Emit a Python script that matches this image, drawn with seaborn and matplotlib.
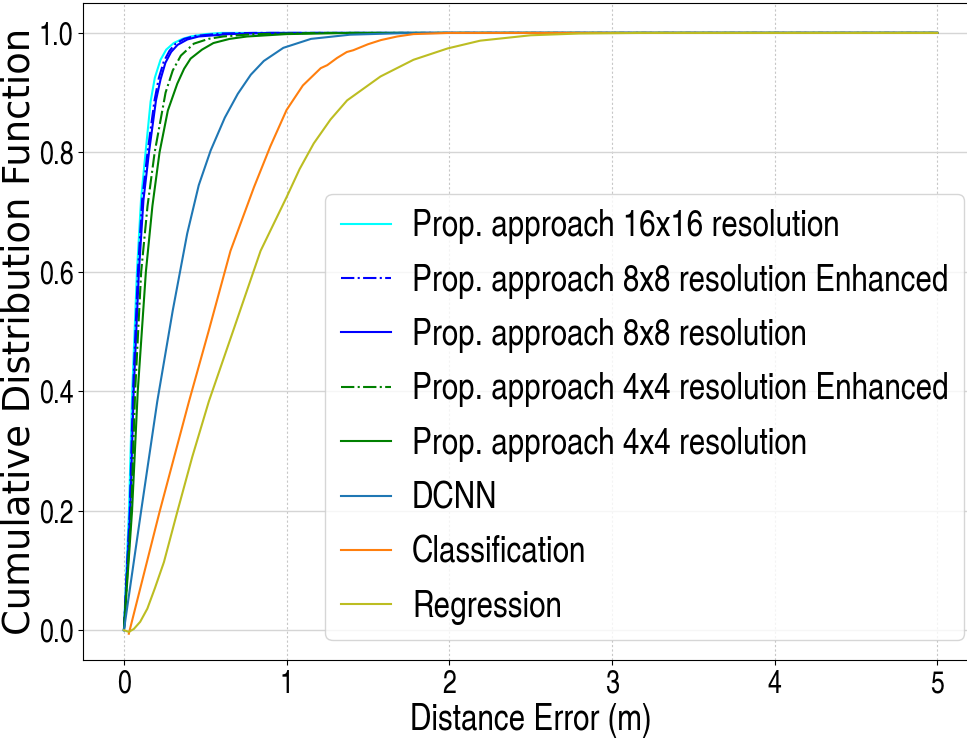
import pandas as pd
import matplotlib
matplotlib.use("Agg")
import matplotlib.pyplot as plt
import seaborn as sns

# CDF curves (x = distance error in m, y = CDF)
cyan16_x = [0.0, 0.031, 0.051, 0.080, 0.105, 0.133, 0.164, 0.19, 0.225, 0.26, 0.306, 0.36, 0.41, 0.5, 0.6, 5.0]
cyan16_y = [0.0, 0.2, 0.4, 0.6, 0.72, 0.8, 0.885, 0.925, 0.955, 0.972, 0.983, 0.99, 0.994, 0.998, 1.0, 1.0]

blue8e_x = [0.0, 0.036, 0.056, 0.086, 0.112, 0.145, 0.188, 0.215, 0.245, 0.28, 0.318, 0.37, 0.44, 0.6, 0.8, 5.0]
blue8e_y = [0.0, 0.2, 0.4, 0.6, 0.72, 0.8, 0.887, 0.925, 0.952, 0.97, 0.982, 0.99, 0.995, 0.999, 1.0, 1.0]

blue8_x = [0.0, 0.039, 0.060, 0.092, 0.12, 0.154, 0.197, 0.225, 0.255, 0.29, 0.33, 0.39, 0.46, 0.65, 0.9, 5.0]
blue8_y = [0.0, 0.2, 0.4, 0.6, 0.72, 0.8, 0.887, 0.922, 0.95, 0.968, 0.98, 0.989, 0.994, 0.998, 1.0, 1.0]

green4e_x = [0.0, 0.045, 0.069, 0.106, 0.145, 0.189, 0.256, 0.3, 0.35, 0.43, 0.52, 0.61, 0.8, 1.2, 5.0]
green4e_y = [0.0, 0.2, 0.4, 0.6, 0.71, 0.8, 0.9, 0.937, 0.962, 0.982, 0.99, 0.994, 0.998, 1.0, 1.0]

green4_x = [0.0, 0.05, 0.085, 0.135, 0.175, 0.219, 0.27, 0.328, 0.37, 0.41, 0.48, 0.55, 0.65, 0.757, 1.0, 1.4, 5.0]
green4_y = [0.0, 0.2, 0.4, 0.6, 0.71, 0.8, 0.87, 0.915, 0.94, 0.957, 0.972, 0.983, 0.99, 0.994, 0.998, 1.0, 1.0]

dcnn_x = [0.0, 0.106, 0.205, 0.3, 0.389, 0.46, 0.533, 0.62, 0.70, 0.78, 0.86, 0.98, 1.15, 1.39, 1.7, 2.0, 5.0]
dcnn_y = [0.0, 0.2, 0.383, 0.535, 0.664, 0.745, 0.803, 0.858, 0.898, 0.93, 0.953, 0.975, 0.99, 0.997, 0.9995, 1.0, 1.0]

clf_x = [0.03, 0.219, 0.4, 0.52, 0.655, 0.8, 0.9, 1.0, 1.1, 1.21, 1.25, 1.31, 1.37, 1.41, 1.5, 1.58, 1.68, 1.78, 2.0, 5.0]
clf_y = [-0.006, 0.198, 0.383, 0.5, 0.635, 0.742, 0.81, 0.871, 0.912, 0.941, 0.946, 0.958, 0.968, 0.971, 0.981, 0.988, 0.994, 0.998, 1.0, 1.0]

reg_x = [0.0, 0.03, 0.061, 0.1, 0.144, 0.19, 0.246, 0.328, 0.42, 0.522, 0.67, 0.84, 1.0, 1.08, 1.167, 1.27, 1.372,
         1.577, 1.78, 1.99, 2.19, 2.5, 2.8, 3.2, 5.0]
reg_y = [0.0, -0.003, 0.002, 0.014, 0.036, 0.07, 0.114, 0.198, 0.29, 0.383, 0.5, 0.635, 0.725, 0.772, 0.815, 0.855, 0.887,
         0.927, 0.955, 0.974, 0.987, 0.996, 0.999, 1.0, 1.0]

labels = ["Prop. approach 16x16 resolution",
          "Prop. approach 8x8 resolution Enhanced",
          "Prop. approach 8x8 resolution",
          "Prop. approach 4x4 resolution Enhanced",
          "Prop. approach 4x4 resolution",
          "DCNN", "Classification", "Regression"]

series = [(cyan16_x, cyan16_y, "cyan", "-"),
          (blue8e_x, blue8e_y, "blue", "-."),
          (blue8_x, blue8_y, "blue", "-"),
          (green4e_x, green4e_y, "green", "-."),
          (green4_x, green4_y, "green", "-"),
          (dcnn_x, dcnn_y, "#1f77b4", "-"),
          (clf_x, clf_y, "#ff7f0e", "-"),
          (reg_x, reg_y, "#bcbd22", "-")]

# narrow face for ticks / x label / legend
narrow = ["TeX Gyre Heros Cn", "Roboto Condensed", "DejaVu Sans"]

fig = plt.figure(figsize=(9.67, 7.42), dpi=100)
ax = fig.add_axes([0.0861, 0.1105, 0.9252, 0.8854])

for (xs, ys, col, ls), lab in zip(series, labels):
    df = pd.DataFrame({"x": xs, "y": ys})
    sns.lineplot(data=df, x="x", y="y", color=col, linestyle=ls,
                 linewidth=1.5, label=lab, ax=ax, sort=False)

ax.set_xlim(-0.25, 5.25)
ax.set_ylim(-0.05, 1.05)
ax.set_xticks([0, 1, 2, 3, 4, 5])
ax.set_yticks([0.0, 0.2, 0.4, 0.6, 0.8, 1.0])
ax.xaxis.grid(True, linestyle=(0, (2, 2)), linewidth=0.8, color="#b0b0b0", alpha=0.7)
ax.yaxis.grid(True, linestyle="-", linewidth=1.0, color="#d5d5d5")
for lbl in ax.get_xticklabels() + ax.get_yticklabels():
    lbl.set_family(narrow)
    lbl.set_fontsize(22)
ax.set_xlabel("Distance Error (m)", fontsize=26, family=narrow, labelpad=2)
ax.set_ylabel("Cumulative Distribution Function", fontsize=26.6, family="DejaVu Sans")
ax.yaxis.set_label_coords(-0.0506, 0.5)
ax.legend(loc="lower right", bbox_to_anchor=(0.9843, 0.0304), borderaxespad=0,
          prop={"family": narrow, "size": 26},
          handlelength=1.4, handletextpad=0.58, borderpad=0.42, labelspacing=0.536)

fig.savefig("out.png", dpi=100)
